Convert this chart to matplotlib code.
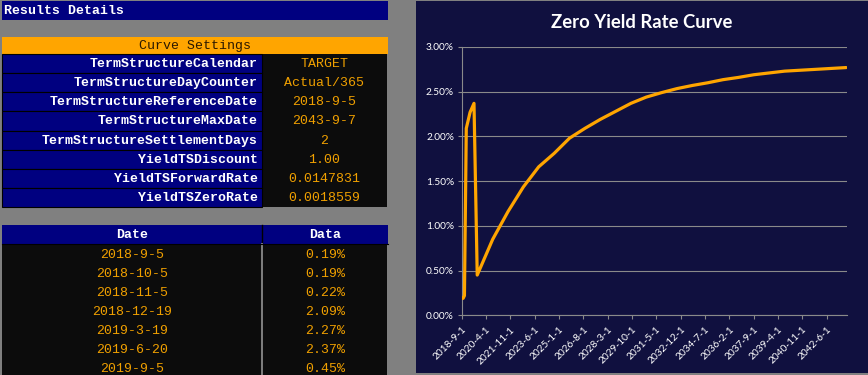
import matplotlib
matplotlib.use("Agg")
import matplotlib.pyplot as plt
import matplotlib.dates as mdates
from matplotlib.patches import Rectangle
from matplotlib.ticker import FuncFormatter, FixedLocator
import pandas as pd

# ---------------- data ----------------
title_text = "Results Details"
settings_header = "Curve Settings"
setting_names = ["TermStructureCalendar", "TermStructureDayCounter",
                 "TermStructureReferenceDate", "TermStructureMaxDate",
                 "TermStructureSettlementDays", "YieldTSDiscount",
                 "YieldTSForwardRate", "YieldTSZeroRate"]
setting_values = ["TARGET", "Actual/365", "2018-9-5", "2043-9-7", "2",
                  "1.00", "0.0147831", "0.0018559"]
table_headers = ["Date", "Data"]

curve_dates = ["2018-9-5", "2018-10-5", "2018-11-5", "2018-12-19", "2019-3-19",
               "2019-6-20", "2019-9-5", "2020-9-7", "2021-9-6", "2022-9-5",
               "2023-9-5", "2024-9-5", "2025-9-5", "2026-9-7", "2027-9-6",
               "2028-9-5", "2029-9-5", "2030-9-5", "2031-9-5", "2032-9-6",
               "2033-9-5", "2034-9-5", "2035-9-5", "2036-9-5", "2037-9-7",
               "2038-9-6", "2039-9-5", "2040-9-5", "2041-9-5", "2042-9-5",
               "2043-9-7"]
curve_rates = [0.19, 0.19, 0.22, 2.09, 2.27, 2.37, 0.45, 0.85, 1.16, 1.435,
               1.66, 1.81, 1.98, 2.09, 2.19, 2.28, 2.37, 2.44, 2.49, 2.535,
               2.57, 2.60, 2.635, 2.66, 2.69, 2.71, 2.73, 2.74, 2.75, 2.76,
               2.77]
table_rows_shown = 7

chart_title = "Zero Yield Rate Curve"
x_tick_labels = ["2018-9-1", "2020-4-1", "2021-11-1", "2023-6-1", "2025-1-1",
                 "2026-8-1", "2028-3-1", "2029-10-1", "2031-5-1", "2032-12-1",
                 "2034-7-1", "2036-2-1", "2037-9-1", "2039-4-1", "2040-11-1",
                 "2042-6-1"]
x_axis_range = ["2018-9-1", "2043-10-5"]
y_ticks = [0.0, 0.5, 1.0, 1.5, 2.0, 2.5, 3.0]

# ---------------- style ----------------
W, H = 868, 375
GREY = "#808080"
NAVY = "#000080"
ORANGE = "#FFA500"
CELL = "#0C0C0C"
VAL = "#F0A000"
CHART_BG = "#10103F"
GRID = "#8A8A8A"
MONO = "Liberation Mono"
FS = 9.5

fig = plt.figure(figsize=(W / 100, H / 100), dpi=100, facecolor=GREY)
bg = fig.add_axes([0, 0, 1, 1])
bg.set_xlim(0, W)
bg.set_ylim(H, 0)
bg.axis("off")

def rect(x0, y0, x1, y1, fc, ec="none", lw=0, z=1):
    bg.add_patch(Rectangle((x0, y0), x1 - x0, y1 - y0, facecolor=fc,
                           edgecolor=ec, linewidth=lw, zorder=z))

# Results Details bar
rect(2, 1, 388, 20, NAVY)
bg.text(4, 10.5, title_text, color="white", family=MONO, fontsize=FS,
        fontweight="bold", ha="left", va="center")

# Curve settings header
rect(2, 37, 388, 54, ORANGE)
bg.text(195, 45.5, settings_header, color="#2A1800", family=MONO, fontsize=FS,
        ha="center", va="center")

row_h = 19.05
y0 = 54.3
rect(262, y0, 387, y0 + row_h * len(setting_names), CELL)
for i, (name, val) in enumerate(zip(setting_names, setting_values)):
    top = y0 + row_h * i
    rect(2, top, 262, top + row_h, NAVY, ec="black", lw=0.8, z=2)
    bg.text(258, top + row_h / 2 + 0.5, name, color="white", family=MONO,
            fontsize=FS, fontweight="bold", ha="right", va="center", zorder=3)
    bg.text(324, top + row_h / 2 + 0.5, val, color=VAL, family=MONO,
            fontsize=FS, ha="center", va="center", zorder=3)

# Data table
ty = 225
rect(2, ty, 388, ty + 19, NAVY, z=2)
rect(2, ty + 19, 387, H, CELL)
bg.plot([261.5, 261.5], [ty, ty + 19], color="black", lw=1, zorder=3)
bg.plot([261.5, 261.5], [ty + 19, H], color=GREY, lw=1.4, zorder=3)
bg.plot([2, 388], [ty + 19, ty + 19], color="black", lw=0.8, zorder=3)
bg.text(132, ty + 10, table_headers[0], color="white", family=MONO, fontsize=FS,
        fontweight="bold", ha="center", va="center", zorder=4)
bg.text(325, ty + 10, table_headers[1], color="white", family=MONO, fontsize=FS,
        fontweight="bold", ha="center", va="center", zorder=4)
for i in range(table_rows_shown):
    cy = ty + 19 + row_h * i + row_h / 2 + 1
    bg.text(132, cy, curve_dates[i], color=VAL, family=MONO, fontsize=FS,
            ha="center", va="center", zorder=4)
    bg.text(325, cy, f"{curve_rates[i]:.2f}%", color=VAL, family=MONO,
            fontsize=FS, ha="center", va="center", zorder=4)

# Chart panel
rect(416, 1, 868, 373, CHART_BG)
bg.text(642, 22, chart_title, color="white", family="Lato", fontsize=13.3,
        fontweight="bold", ha="center", va="center")

left, right, top_, bottom = 461.7, 847.3, 47.0, 315.3
ax = fig.add_axes([left / W, (H - bottom) / H, (right - left) / W,
                   (bottom - top_) / H])
ax.set_facecolor(CHART_BG)
x = pd.to_datetime(curve_dates)
ax.plot(x, curve_rates, color=ORANGE, lw=2.3, solid_joinstyle="round",
        solid_capstyle="round", zorder=3)
ax.set_xlim(pd.to_datetime(x_axis_range[0]), pd.to_datetime(x_axis_range[1]))
ax.set_ylim(y_ticks[0], y_ticks[-1])
ax.set_yticks(y_ticks)
ax.yaxis.set_major_formatter(FuncFormatter(lambda v, p: f"{v:.2f}%"))
tick_pos = mdates.date2num(pd.to_datetime(x_tick_labels))
ax.xaxis.set_major_locator(FixedLocator(tick_pos))
ax.set_xticklabels(x_tick_labels, rotation=45, ha="right",
                   rotation_mode="anchor")
ax.grid(axis="y", color=GRID, lw=0.8, zorder=1)
ax.set_axisbelow(True)
for s in ["top", "right"]:
    ax.spines[s].set_visible(False)
for s in ["left", "bottom"]:
    ax.spines[s].set_color(GRID)
    ax.spines[s].set_linewidth(0.8)
ax.tick_params(axis="both", colors=GRID, length=3, width=0.8,
               labelcolor="white")
ax.tick_params(axis="y", pad=2.5)
ax.tick_params(axis="x", pad=4)
for lab in ax.get_yticklabels() + ax.get_xticklabels():
    lab.set_fontfamily("Lato")
    lab.set_fontsize(7.3)

fig.savefig("out.png", dpi=100, facecolor=GREY)
